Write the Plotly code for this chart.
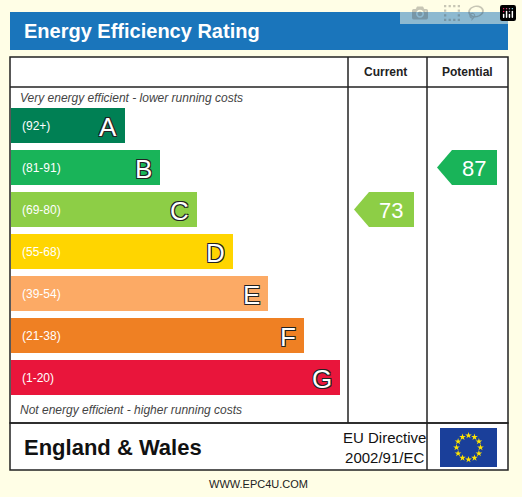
import numpy as np
import plotly.graph_objects as go

bands = ["A", "B", "C", "D", "E", "F", "G"]
ranges = ["(92+)", "(81-91)", "(69-80)", "(55-68)", "(39-54)", "(21-38)", "(1-20)"]
band_min = [92, 81, 69, 55, 39, 21, 1]
colors = ["#008054", "#19b459", "#8dce46", "#ffd500", "#fcaa65", "#ef8023", "#e9153b"]
bar_ends = [125, 160, 197, 233, 268, 304, 340]
current = 73
potential = 87

BG = "#fffee6"
top0, step, h = 108, 42, 35

fig = go.Figure()
ys = [top0 + i * step + h / 2 for i in range(len(bands))]
fig.add_trace(go.Bar(y=ys, x=[e - 11 for e in bar_ends], base=11, orientation="h",
                     width=h, marker=dict(color=colors, line_width=0),
                     hoverinfo="skip"))

ann = []
outline = "1px 1px 0 #222, -1px -1px 0 #222, 1px -1px 0 #222, -1px 1px 0 #222"
for y, r, b, e in zip(ys, ranges, bands, bar_ends):
    ann.append(dict(x=20, y=y, text=r, showarrow=False, xanchor="left",
                    font=dict(color="white", size=12, family="Arial")))
    ann.append(dict(x=e - 6, y=y + 1, text=b, showarrow=False, xanchor="right",
                    font=dict(color="white", size=26, family="Arial", shadow=outline)))


def band_of(v):
    for i, m in enumerate(band_min):
        if v >= m:
            return i
    return len(band_min) - 1


def arrow(v, x0, x1):
    i = band_of(v)
    yc = ys[i]
    px = [x0, x0 + 15, x1, x1, x0 + 15, x0]
    py = [yc, yc - h / 2, yc - h / 2, yc + h / 2, yc + h / 2, yc]
    fig.add_trace(go.Scatter(x=px, y=py, fill="toself", fillcolor=colors[i],
                             line=dict(width=0), mode="lines", hoverinfo="skip"))
    ann.append(dict(x=(x0 + x1) / 2 + 7, y=yc + 1, text=str(v), showarrow=False,
                    font=dict(color="white", size=22, family="Arial")))


arrow(current, 354, 414)
arrow(potential, 437, 497)

line = dict(color="#222", width=1.5)
shapes = [
    dict(type="rect", x0=10, x1=508, y0=12, y1=50, fillcolor="#1a75bb", line_width=0),
    dict(type="rect", x0=10, x1=508, y0=57, y1=423, line=line),
    dict(type="rect", x0=10, x1=508, y0=423, y1=470, line=line),
    dict(type="line", x0=348, x1=348, y0=57, y1=423, line=line),
    dict(type="line", x0=427, x1=427, y0=57, y1=423, line=line),
    dict(type="line", x0=10, x1=508, y0=87, y1=87, line=line),
    dict(type="line", x0=427, x1=427, y0=423, y1=470, line=line),
    dict(type="rect", x0=440, x1=497, y0=428, y1=467, fillcolor="#1a3f9a", line_width=0,
         layer="below"),
]

ang = np.linspace(0, 2 * np.pi, 13)[:-1]
fig.add_trace(go.Scatter(x=468.5 + 12 * np.cos(ang), y=447.5 + 12 * np.sin(ang),
                         mode="markers", marker=dict(symbol="star", size=5, color="#ffe500"),
                         hoverinfo="skip"))

ann += [
    dict(x=22, y=31, text="<b>Energy Efficiency Rating</b>", showarrow=False, xanchor="left",
         font=dict(color="white", size=20, family="Arial")),
    dict(x=385, y=72, text="<b>Current</b>", showarrow=False, font=dict(size=12, family="Arial", color="#222")),
    dict(x=467, y=72, text="<b>Potential</b>", showarrow=False, font=dict(size=12, family="Arial", color="#222")),
    dict(x=18, y=98, text="<i>Very energy efficient - lower running costs</i>", showarrow=False,
         xanchor="left", font=dict(size=12, family="Arial", color="#444")),
    dict(x=18, y=410, text="<i>Not energy efficient - higher running costs</i>", showarrow=False,
         xanchor="left", font=dict(size=12, family="Arial", color="#444")),
    dict(x=22, y=447, text="<b>England & Wales</b>", showarrow=False, xanchor="left",
         font=dict(size=22, family="Arial", color="#111")),
    dict(x=384, y=447, text="EU Directive<br>2002/91/EC", showarrow=False,
         font=dict(size=15, family="Arial", color="#111")),
    dict(x=258, y=484, text="WWW.EPC4U.COM", showarrow=False,
         font=dict(size=11, family="Arial", color="#222")),
]

fig.update_layout(
    width=522, height=497, margin=dict(l=0, r=0, t=0, b=0),
    paper_bgcolor=BG, plot_bgcolor="white", showlegend=False,
    xaxis=dict(range=[0, 522], visible=False, fixedrange=True),
    yaxis=dict(range=[497, 0], visible=False, fixedrange=True),
    shapes=shapes, annotations=ann, bargap=0,
)
for x0, x1, y0, y1 in [(0, 10, 0, 497), (508, 522, 0, 497), (10, 508, 0, 57), (10, 508, 470, 497)]:
    fig.add_shape(type="rect", x0=x0, x1=x1, y0=y0, y1=y1, fillcolor=BG, line_width=0, layer="below")
fig.write_html("out.html", post_script="document.body.style.margin='0';")
